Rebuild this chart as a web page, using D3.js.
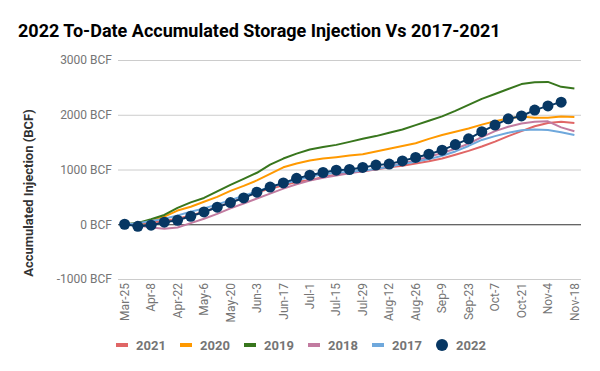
<!DOCTYPE html>
<html>
<head>
<meta charset="utf-8">
<script src="https://cdn.jsdelivr.net/npm/d3@7"></script>
<style>
  body { margin: 0; background: #fff; }
  text { font-family: Roboto, "Noto Sans", sans-serif; }
</style>
</head>
<body>
<div id="wrapper"></div>
<script>
// weekly dates, Mar-25 .. Nov-18
const weeks = ["Mar-25","Apr-1","Apr-8","Apr-15","Apr-22","Apr-29","May-6","May-13","May-20","May-27",
  "Jun-3","Jun-10","Jun-17","Jun-24","Jul-1","Jul-8","Jul-15","Jul-22","Jul-29","Aug-5",
  "Aug-12","Aug-19","Aug-26","Sep-2","Sep-9","Sep-16","Sep-23","Sep-30","Oct-7","Oct-14",
  "Oct-21","Oct-28","Nov-4","Nov-11","Nov-18"]

const yTicks = [-1000, 0, 1000, 2000, 3000]

const y2021 = [0,10,30,60,100,160,230,310,400,490,580,650,710,770,810,860,910,950,970,1000,
  1040,1070,1110,1150,1200,1270,1340,1420,1510,1610,1700,1790,1850,1870,1850]
const y2020 = [0,20,60,140,250,320,410,500,610,700,800,920,1040,1110,1165,1200,1225,1255,1280,1330,
  1380,1430,1480,1560,1630,1690,1750,1820,1880,1930,1970,1945,1945,1970,1960]
const y2019 = [0,25,90,170,300,400,480,600,720,830,940,1090,1200,1290,1365,1410,1450,1505,1560,1610,
  1670,1730,1810,1890,1970,2070,2180,2290,2380,2470,2560,2595,2600,2510,2480]
const y2018 = [0,-20,-60,-80,-60,20,100,190,290,380,470,560,650,730,800,850,890,930,970,1010,
  1060,1110,1170,1230,1300,1380,1470,1590,1700,1780,1840,1870,1880,1770,1700]
const y2017 = [0,20,60,100,160,230,290,360,440,520,600,680,740,800,870,910,940,960,980,1010,
  1050,1100,1140,1190,1250,1330,1430,1540,1610,1670,1715,1730,1720,1680,1630]
const y2022 = [0,-37,-18,37,73,146,225,311,395,480,585,680,755,838,896,945,987,1000,1037,1080,
  1100,1157,1220,1280,1353,1455,1560,1690,1812,1925,1978,2085,2162,2230]

const seriesNames = ["2021","2020","2019","2018","2017"]
const seriesValues = [y2021, y2020, y2019, y2018, y2017]
const seriesColors = ["#e06666","#ff9900","#38761d","#c27ba0","#6fa8dc"]
const color2022 = "#073763"

function drawChart() {
  let dimensions = {
    width: 600,
    height: 371,
    margin: { top: 60, right: 19, bottom: 92, left: 118 },
  }
  dimensions.boundedWidth = dimensions.width - dimensions.margin.left - dimensions.margin.right
  dimensions.boundedHeight = dimensions.height - dimensions.margin.top - dimensions.margin.bottom

  const wrapper = d3.select("#wrapper")
    .append("svg")
      .attr("width", dimensions.width)
      .attr("height", dimensions.height)

  const bounds = wrapper.append("g")
      .attr("transform", `translate(${dimensions.margin.left},${dimensions.margin.top})`)

  // scales
  const xScale = d3.scaleBand()
    .domain(weeks)
    .range([0, dimensions.boundedWidth])
  const xCenter = w => xScale(w) + xScale.bandwidth() / 2

  const yScale = d3.scaleLinear()
    .domain([-1000, 3000])
    .range([dimensions.boundedHeight, 0])

  // gridlines + y axis
  const yAxisGenerator = d3.axisLeft(yScale)
    .tickValues(yTicks)
    .tickSize(-dimensions.boundedWidth)
    .tickPadding(6)
    .tickFormat(d => `${d} BCF`)

  const yAxis = bounds.append("g").call(yAxisGenerator)
  yAxis.select(".domain").remove()
  yAxis.selectAll(".tick line")
    .attr("stroke", d => d === 0 ? "#333" : "#cccccc")
    .attr("stroke-width", 1)
  yAxis.selectAll(".tick text")
    .attr("fill", "#757575")
    .style("font-size", "12px")

  // x axis
  const xAxisGenerator = d3.axisBottom(xScale)
    .tickValues(weeks.filter((d, i) => i % 2 === 0))
    .tickSize(0)

  const xAxis = bounds.append("g")
    .attr("transform", `translate(0,${dimensions.boundedHeight})`)
    .call(xAxisGenerator)
  xAxis.select(".domain").remove()
  xAxis.selectAll(".tick text")
    .attr("fill", "#757575")
    .style("font-size", "12px")
    .attr("text-anchor", "end")
    .attr("transform", "rotate(-90)")
    .attr("x", -4)
    .attr("y", 0)
    .attr("dy", "0.35em")

  // lines
  const lineGenerator = d3.line()
    .x((d, i) => xCenter(weeks[i]))
    .y(d => yScale(d))

  seriesValues.forEach((vals, k) => {
    bounds.append("path")
      .attr("d", lineGenerator(vals))
      .attr("fill", "none")
      .attr("stroke", seriesColors[k])
      .attr("stroke-width", 2)
      .attr("stroke-linejoin", "round")
  })

  bounds.append("path")
    .attr("d", lineGenerator(y2022))
    .attr("fill", "none")
    .attr("stroke", color2022)
    .attr("stroke-width", 2)

  bounds.selectAll(".dot")
    .data(y2022)
    .join("circle")
      .attr("cx", (d, i) => xCenter(weeks[i]))
      .attr("cy", d => yScale(d))
      .attr("r", 5.5)
      .attr("fill", color2022)

  // title
  wrapper.append("text")
    .attr("x", 18)
    .attr("y", 37)
    .style("font-size", "18px")
    .style("font-weight", "bold")
    .attr("fill", "#000")
    .text("2022 To-Date Accumulated Storage Injection Vs 2017-2021")

  wrapper.append("text")
    .attr("transform", "translate(33,193) rotate(-90)")
    .attr("text-anchor", "middle")
    .style("font-size", "13px")
    .style("font-weight", "bold")
    .attr("fill", "#333")
    .text("Accumulated Injection (BCF)")

  // legend
  const legend = wrapper.append("g")
    .attr("transform", "translate(116,345)")
  const legendItems = seriesNames.concat(["2022"])
  legendItems.forEach((name, i) => {
    const g = legend.append("g").attr("transform", `translate(${i * 64},0)`)
    if (name === "2022") {
      g.append("circle")
        .attr("cx", 6)
        .attr("cy", 0)
        .attr("r", 6)
        .attr("fill", color2022)
    } else {
      g.append("rect")
        .attr("x", 0)
        .attr("y", -2)
        .attr("width", 12)
        .attr("height", 4)
        .attr("fill", seriesColors[i])
    }
    g.append("text")
      .attr("x", 20)
      .attr("dy", "0.35em")
      .style("font-size", "13px")
      .style("font-weight", "bold")
      .attr("fill", "#757575")
      .text(name)
  })
}

drawChart()
</script>
</body>
</html>
